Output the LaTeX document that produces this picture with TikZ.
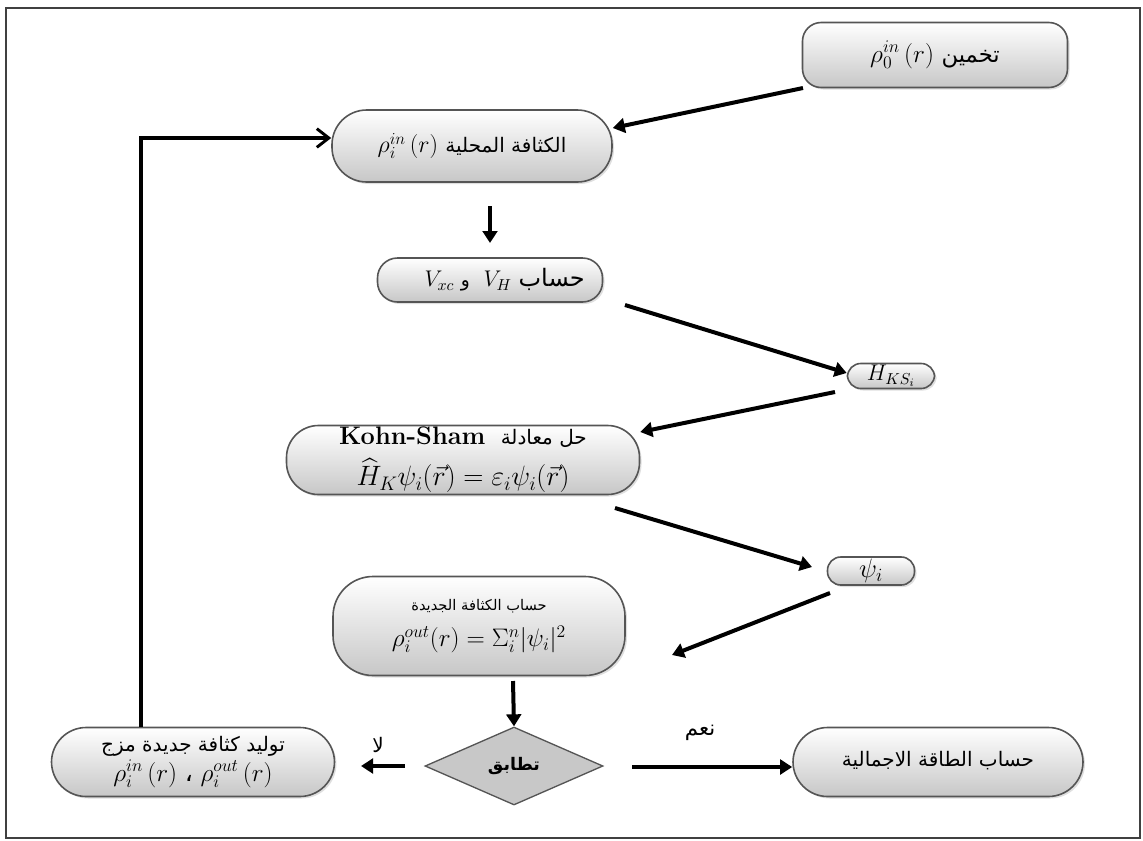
\RequirePackage{fix-cm}
\documentclass[tikz,border=0pt]{standalone}
\usepackage{amsmath}
\usepackage{fontspec}
\usetikzlibrary{arrows.meta,shapes.geometric,shadows}
\TeXXeTstate=1
\newfontfamily\arfont[Script=Arabic]{DejaVu Sans}
\newcommand\artxt[1]{{\arfont\beginR #1\endR}}
\newcommand\fsz[1]{\fontsize{#1}{#1}\selectfont}
\newdimen\pxu \pxu=0.75pt
\definecolor{boxline}{HTML}{555555}
\definecolor{diafill}{HTML}{C8C8C8}
\tikzset{
  boxstyle/.style={draw=boxline, line width=1.2pt, top color=white, bottom color=black!22,
    drop shadow={opacity=0.25, shadow xshift=1.5pt, shadow yshift=-1.5pt},
    align=center, inner sep=0pt, font=\fsz{15}},
  thickarrow/.style={line width=3pt, -{Triangle[width=11pt,length=9pt]}},
  loopline/.style={line width=3pt, -{Straight Barb[width=14pt,length=9pt,line width=2.2pt]}},
  lbl/.style={font=\fsz{15}}
}
\begin{document}
\begin{tikzpicture}[x=0.75pt,y=-0.75pt]
\useasboundingbox (0,0) rectangle (1143,840);
\draw[line width=2pt, draw=black!75] (6,8) rectangle (1140,838);

\node[boxstyle, rounded corners=14pt, minimum width=265\pxu, minimum height=65\pxu, font=\fsz{19}] (guess) at (935,55)
  {\raisebox{5pt}{$\rho_0^{in}\,(r)$\ {\fsz{17}\artxt{تخمين}}}};
\node[boxstyle, rounded corners=26pt, minimum width=280\pxu, minimum height=72\pxu, font=\fsz{18}] (local) at (472,146)
  {$\rho_i^{in}\,(r)$\ {\fsz{15}\artxt{الكثافة المحلية}}};
\node[boxstyle, rounded corners=15pt, minimum width=225\pxu, minimum height=44\pxu, font=\fsz{17}] (pot) at (490,280)
  {\hspace*{22pt}$V_{xc}$\ {\fsz{14}\artxt{و}}\ \ $V_H$\ {\fsz{18}\artxt{حساب}}};
\node[boxstyle, rounded corners=10pt, minimum width=87\pxu, minimum height=25\pxu, font=\fsz{17}] (hks) at (891,376)
  {$H_{KS_i}$};
\node[boxstyle, rounded corners=24pt, minimum width=353\pxu, minimum height=69\pxu,
  font=\fontsize{19}{21}\selectfont] (ks) at (463,460)
  {\textbf{Kohn-Sham}\ \ {\fsz{15}\artxt{حل معادلة}}\\[7pt]
   {\fsz{21}$\widehat{H}_K\psi_i(\vec{r})=\varepsilon_i\psi_i(\vec{r})$}};
\node[boxstyle, rounded corners=10pt, minimum width=87\pxu, minimum height=28\pxu, font=\fsz{20}] (psi) at (871,571)
  {$\psi_i$};
\node[boxstyle, rounded corners=30pt, minimum width=292\pxu, minimum height=99\pxu,
  font=\fontsize{19}{23}\selectfont] (newd) at (479,626)
  {{\fsz{11}\artxt{حساب الكثافة الجديدة}}\\[4pt]
   $\rho_i^{out}(r)=\Sigma_i^n|\psi_i|^2$};
\node[diamond, draw=boxline, line width=1pt, fill=diafill, aspect=2.28, minimum width=178\pxu,
  minimum height=78\pxu, inner sep=0pt, font=\fsz{13}\bfseries] (match) at (514,766)
  {\artxt{تطابق}};
\node[boxstyle, rounded corners=26pt, minimum width=290\pxu, minimum height=69\pxu, font=\fsz{15}] (energy) at (938,762)
  {\raisebox{4pt}{\artxt{حساب الطاقة الاجمالية}}};
\node[boxstyle, rounded corners=26pt, minimum width=283\pxu, minimum height=69\pxu,
  font=\fontsize{19}{22}\selectfont] (mix) at (193,762)
  {{\fsz{15}\artxt{توليد كثافة جديدة مزج}}\\
   $\rho_i^{in}\,(r)$ {\arfont ،} $\rho_i^{out}\,(r)$};

% connectors
\coordinate (g1) at (803,88);
\draw[thickarrow] (g1) -- (local.east |- 0,128);
\coordinate (loopc) at (141,138);
\draw[loopline] (mix.north -| loopc) -- (loopc) -- (local.west |- loopc);
\coordinate (d1) at (490,206);
\coordinate (d2) at (490,243);
\draw[thickarrow] (d1) -- (d2);
\coordinate (p1) at (625,305);
\draw[thickarrow] (p1) -- (hks.west |- 0,373);
\coordinate (p2) at (835,392);
\draw[thickarrow] (p2) -- (ks.east |- 0,432);
\coordinate (p3) at (615,508);
\coordinate (p3e) at (812,567);
\draw[thickarrow] (p3) -- (p3e);
\coordinate (p4) at (830,593);
\coordinate (p4e) at (672,655);
\draw[thickarrow] (p4) -- (p4e);
\coordinate (m0) at (513,681);
\draw[thickarrow] (m0) -- (match.north);
\coordinate (n1) at (405,766);
\coordinate (n2) at (361,766);
\draw[thickarrow] (n1) -- (n2);
\coordinate (y1) at (632,767);
\draw[thickarrow] (y1) -- (energy.west |- y1);
\node[lbl, font=\fsz{15}] (no) at (378,745) {\artxt{لا}};
\node[lbl, font=\fsz{16}] (yes) at (700,733) {\artxt{نعم}};
\end{tikzpicture}
\end{document}
